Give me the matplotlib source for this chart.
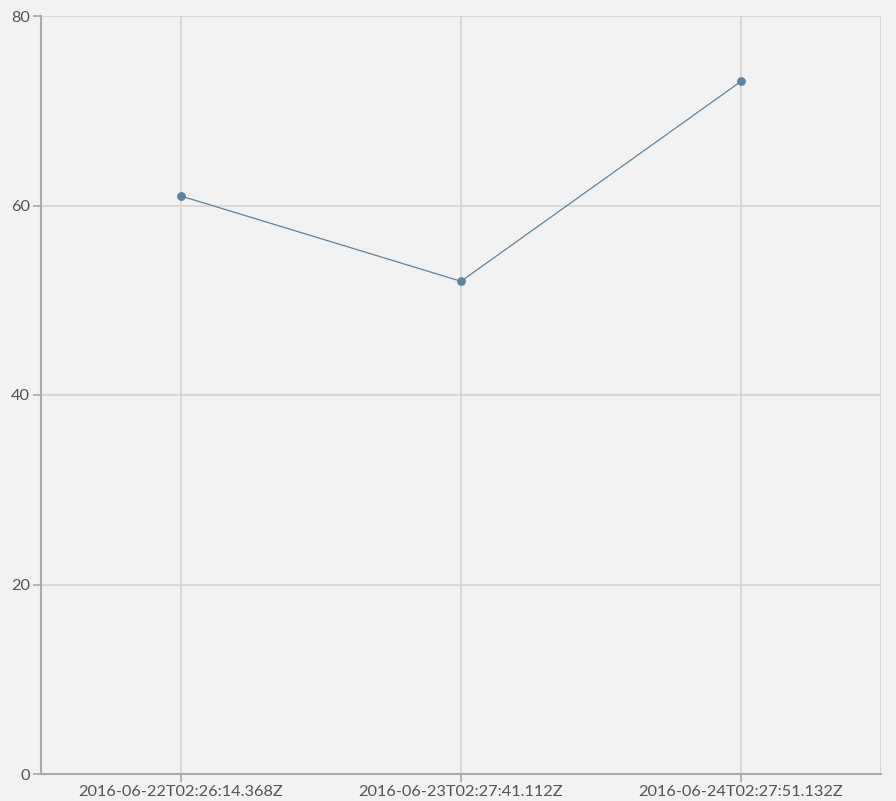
import matplotlib
matplotlib.use("Agg")
import matplotlib.pyplot as plt

# data
labels = ["2016-06-22T02:26:14.368Z", "2016-06-23T02:27:41.112Z", "2016-06-24T02:27:51.132Z"]
values = [61, 52, 73.1]
y_ticks = [0, 20, 40, 60, 80]

plt.rcParams['font.family'] = ['Lato', 'DejaVu Sans']

fig = plt.figure(figsize=(8.96, 8.01), dpi=100, facecolor="#f2f2f2")
ax = fig.add_axes([41 / 896, 27 / 801, 840 / 896, 758 / 801])
ax.set_facecolor("#f2f2f2")

x = list(range(len(labels)))
ax.plot(x, values, color="#5f84a0", linewidth=0.9, zorder=3)
ax.scatter(x, values, color="#5f84a0", s=40, zorder=4, linewidths=0)

ax.set_xlim(-0.5, 2.5)
ax.set_ylim(0, 80)
ax.set_xticks(x)
ax.set_xticklabels(labels)
ax.set_yticks(y_ticks)

# grid lines (also on the top and right edges)
grid_c = "#d4d4d4"
for xv in x + [2.5]:
    ax.axvline(xv, color=grid_c, linewidth=1.2, zorder=1)
for yv in y_ticks[1:]:
    ax.axhline(yv, color=grid_c, linewidth=1.2, zorder=1)

for s in ["top", "right"]:
    ax.spines[s].set_visible(False)
for s in ["left", "bottom"]:
    ax.spines[s].set_color("#aaaaaa")
    ax.spines[s].set_linewidth(1.5)

ax.tick_params(axis="both", colors="#aaaaaa", labelcolor="#555555",
               labelsize=11.8, length=6, width=1.2, pad=2)

fig.savefig("out.png", dpi=100, facecolor=fig.get_facecolor())
